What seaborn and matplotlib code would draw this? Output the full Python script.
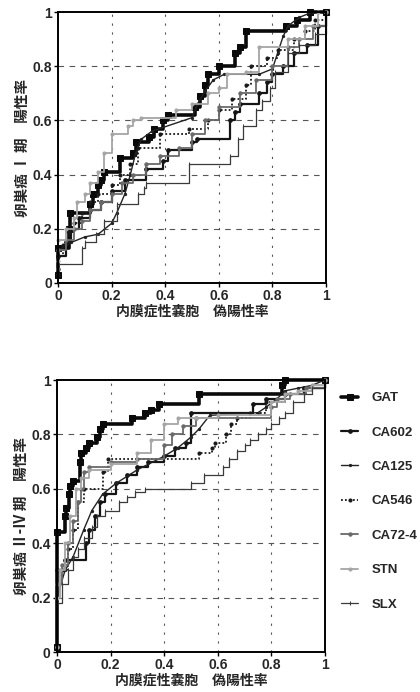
import matplotlib
matplotlib.use("Agg")
import matplotlib.pyplot as plt
import seaborn as sns
import pandas as pd

# ---------------- data ----------------
series_names = ["GAT", "CA602", "CA125", "CA546", "CA72-4", "STN", "SLX"]
tick_vals = [0, 0.2, 0.4, 0.6, 0.8, 1]
tick_labels = ["0", "0.2", "0.4", "0.6", "0.8", "1"]

# Stage I panel
top_gat_x = [0, 0, 0.04, 0.045, 0.12, 0.13, 0.15, 0.16, 0.17, 0.23, 0.28, 0.29, 0.34, 0.36, 0.39, 0.41, 0.51, 0.53, 0.55, 0.56, 0.60, 0.66, 0.68, 0.70, 0.85, 0.89, 0.94, 1.0]
top_gat_y = [0.03, 0.13, 0.20, 0.26, 0.29, 0.33, 0.36, 0.38, 0.41, 0.46, 0.48, 0.52, 0.54, 0.57, 0.60, 0.62, 0.65, 0.69, 0.73, 0.77, 0.80, 0.85, 0.87, 0.93, 0.95, 0.97, 1.0, 1.0]
top_ca602_x = [0, 0, 0.03, 0.05, 0.08, 0.12, 0.16, 0.20, 0.25, 0.33, 0.39, 0.41, 0.50, 0.52, 0.64, 0.66, 0.68, 0.75, 0.78, 0.80, 0.84, 0.88, 0.93, 0.97, 1.0]
top_ca602_y = [0.03, 0.10, 0.15, 0.20, 0.24, 0.27, 0.30, 0.34, 0.38, 0.42, 0.45, 0.49, 0.52, 0.53, 0.60, 0.63, 0.66, 0.70, 0.74, 0.77, 0.80, 0.85, 0.88, 0.95, 1.0]
top_ca125_x = [0, 0, 0.05, 0.10, 0.15, 0.20, 0.22, 0.25, 0.27, 0.29, 0.31, 0.35, 0.50, 0.52, 0.55, 0.58, 0.62, 0.75, 0.80, 0.82, 0.84, 0.86, 0.90, 0.95, 1.0]
top_ca125_y = [0.05, 0.12, 0.15, 0.17, 0.18, 0.22, 0.26, 0.33, 0.40, 0.48, 0.53, 0.56, 0.61, 0.66, 0.71, 0.75, 0.77, 0.77, 0.79, 0.85, 0.91, 0.95, 0.98, 1.0, 1.0]
top_ca546_x = [0, 0, 0.02, 0.04, 0.06, 0.09, 0.12, 0.15, 0.20, 0.23, 0.27, 0.30, 0.38, 0.49, 0.56, 0.60, 0.65, 0.70, 0.72, 0.78, 0.82, 0.88, 0.92, 0.96, 1.0]
top_ca546_y = [0.05, 0.10, 0.14, 0.19, 0.22, 0.26, 0.30, 0.33, 0.36, 0.40, 0.44, 0.50, 0.55, 0.57, 0.60, 0.64, 0.68, 0.73, 0.80, 0.83, 0.86, 0.90, 0.93, 0.97, 1.0]
top_ca724_x = [0, 0, 0.03, 0.06, 0.09, 0.12, 0.16, 0.20, 0.24, 0.28, 0.33, 0.38, 0.45, 0.50, 0.55, 0.60, 0.68, 0.74, 0.80, 0.86, 0.90, 0.95, 1.0]
top_ca724_y = [0.05, 0.12, 0.16, 0.20, 0.23, 0.27, 0.30, 0.33, 0.37, 0.40, 0.44, 0.47, 0.50, 0.55, 0.60, 0.65, 0.70, 0.75, 0.80, 0.87, 0.90, 0.95, 1.0]
top_stn_x = [0, 0, 0.03, 0.06, 0.07, 0.10, 0.12, 0.15, 0.17, 0.20, 0.26, 0.28, 0.31, 0.44, 0.50, 0.56, 0.60, 0.63, 0.70, 0.75, 0.86, 0.92, 0.97, 1.0]
top_stn_y = [0.08, 0.16, 0.20, 0.24, 0.30, 0.33, 0.37, 0.41, 0.48, 0.55, 0.58, 0.60, 0.61, 0.64, 0.66, 0.70, 0.72, 0.77, 0.78, 0.87, 0.90, 0.95, 1.0, 1.0]
top_slx_x = [0, 0, 0.09, 0.10, 0.14, 0.17, 0.22, 0.30, 0.32, 0.33, 0.49, 0.64, 0.67, 0.69, 0.74, 0.76, 0.79, 0.81, 0.86, 0.90, 0.96, 1.0]
top_slx_y = [0.03, 0.07, 0.13, 0.15, 0.18, 0.23, 0.29, 0.33, 0.35, 0.37, 0.44, 0.47, 0.53, 0.58, 0.64, 0.67, 0.72, 0.78, 0.85, 0.88, 0.92, 1.0]

# Stage II-IV panel
bot_gat_x = [0, 0, 0.03, 0.035, 0.045, 0.05, 0.06, 0.085, 0.09, 0.11, 0.12, 0.15, 0.16, 0.17, 0.28, 0.33, 0.35, 0.38, 0.53, 0.84, 0.85, 1.0]
bot_gat_y = [0.02, 0.44, 0.50, 0.53, 0.58, 0.61, 0.63, 0.70, 0.73, 0.75, 0.77, 0.79, 0.82, 0.84, 0.86, 0.88, 0.89, 0.91, 0.95, 0.98, 1.0, 1.0]
bot_ca602_x = [0, 0, 0.03, 0.11, 0.12, 0.14, 0.16, 0.18, 0.22, 0.26, 0.30, 0.34, 0.40, 0.44, 0.48, 0.50, 0.73, 0.78, 0.85, 0.92, 1.0]
bot_ca602_y = [0.02, 0.30, 0.34, 0.40, 0.45, 0.50, 0.55, 0.58, 0.62, 0.65, 0.68, 0.70, 0.72, 0.75, 0.77, 0.88, 0.91, 0.93, 0.95, 0.97, 1.0]
bot_ca125_x = [0, 0, 0.03, 0.06, 0.10, 0.13, 0.17, 0.22, 0.30, 0.40, 0.45, 0.50, 0.53, 0.57, 0.75, 0.78, 0.82, 0.85, 0.90, 0.95, 1.0]
bot_ca125_y = [0.02, 0.20, 0.30, 0.35, 0.45, 0.52, 0.58, 0.62, 0.67, 0.72, 0.75, 0.79, 0.82, 0.87, 0.88, 0.90, 0.93, 0.96, 0.97, 0.98, 1.0]
bot_ca546_x = [0, 0, 0.02, 0.04, 0.06, 0.08, 0.10, 0.17, 0.19, 0.53, 0.58, 0.59, 0.63, 0.65, 0.67, 0.72, 0.78, 0.85, 0.92, 1.0]
bot_ca546_y = [0.02, 0.25, 0.30, 0.38, 0.45, 0.55, 0.60, 0.66, 0.71, 0.73, 0.75, 0.77, 0.80, 0.84, 0.86, 0.88, 0.92, 0.95, 0.97, 1.0]
bot_ca724_x = [0, 0, 0.02, 0.04, 0.06, 0.08, 0.09, 0.10, 0.12, 0.20, 0.30, 0.40, 0.43, 0.47, 0.52, 0.80, 0.82, 0.87, 0.93, 1.0]
bot_ca724_y = [0.02, 0.25, 0.32, 0.40, 0.48, 0.55, 0.60, 0.66, 0.68, 0.70, 0.71, 0.76, 0.80, 0.83, 0.86, 0.90, 0.93, 0.95, 0.97, 1.0]
bot_stn_x = [0, 0, 0.01, 0.03, 0.05, 0.07, 0.09, 0.12, 0.20, 0.30, 0.35, 0.40, 0.45, 0.52, 0.60, 0.80, 0.85, 0.90, 0.95, 1.0]
bot_stn_y = [0.02, 0.20, 0.30, 0.40, 0.50, 0.60, 0.64, 0.67, 0.69, 0.73, 0.78, 0.84, 0.86, 0.86, 0.87, 0.92, 0.95, 0.96, 0.98, 1.0]
bot_slx_x = [0, 0, 0.02, 0.04, 0.06, 0.08, 0.10, 0.13, 0.15, 0.18, 0.23, 0.26, 0.29, 0.33, 0.50, 0.55, 0.62, 0.64, 0.67, 0.70, 0.72, 0.75, 0.78, 0.80, 0.83, 0.85, 0.88, 0.92, 0.95, 1.0]
bot_slx_y = [0.02, 0.18, 0.25, 0.30, 0.35, 0.38, 0.42, 0.46, 0.50, 0.52, 0.55, 0.57, 0.59, 0.60, 0.62, 0.65, 0.68, 0.71, 0.74, 0.76, 0.78, 0.80, 0.82, 0.84, 0.86, 0.88, 0.92, 0.95, 0.97, 1.0]

top_series = [(top_gat_x, top_gat_y), (top_ca602_x, top_ca602_y), (top_ca125_x, top_ca125_y),
              (top_ca546_x, top_ca546_y), (top_ca724_x, top_ca724_y), (top_stn_x, top_stn_y),
              (top_slx_x, top_slx_y)]
bot_series = [(bot_gat_x, bot_gat_y), (bot_ca602_x, bot_ca602_y), (bot_ca125_x, bot_ca125_y),
              (bot_ca546_x, bot_ca546_y), (bot_ca724_x, bot_ca724_y), (bot_stn_x, bot_stn_y),
              (bot_slx_x, bot_slx_y)]

top_ylabel = "卵巣癌 Ⅰ 期　陽性率"
bot_ylabel = "卵巣癌 Ⅱ-Ⅳ 期　陽性率"
xlabel = "内膜症性嚢胞　偽陽性率"

# ---------------- styles ----------------
styles = {
    "GAT":    dict(color="#0a0a0a", lw=2.6, ls="-", marker="s", ms=4.0, ds="steps-post"),
    "CA602":  dict(color="#151515", lw=1.6, ls="-", marker="o", ms=2.6, ds="steps-post"),
    "CA125":  dict(color="#222222", lw=1.0, ls="-", marker="o", ms=1.6, ds="default"),
    "CA546":  dict(color="#1a1a1a", lw=1.3, ls=(0, (1, 1.2)), marker="o", ms=2.2, ds="steps-post"),
    "CA72-4": dict(color="#6a6a6a", lw=1.3, ls="-", marker="o", ms=2.4, ds="steps-post"),
    "STN":    dict(color="#a5a5a5", lw=1.3, ls="-", marker="o", ms=2.2, ds="steps-post"),
    "SLX":    dict(color="#3a3a3a", lw=0.9, ls="-", marker="|", ms=2.5, ds="steps-post"),
}

sns.set_theme(style="white")
plt.rcParams["font.family"] = ["Liberation Sans", "Noto Sans CJK JP", "DejaVu Sans"]

fig = plt.figure(figsize=(4.2, 6.92), dpi=100)
ax_top = fig.add_axes([58 / 420, 1 - 283 / 692, 268 / 420, 271 / 692])
ax_bot = fig.add_axes([57 / 420, 1 - 652 / 692, 268 / 420, 272 / 692])


def draw_panel(ax, series, ylabel, with_legend):
    for name, (xs, ys) in zip(series_names, series):
        st = styles[name]
        df = pd.DataFrame({"x": xs, "y": ys})
        sns.lineplot(data=df, x="x", y="y", ax=ax, estimator=None, sort=False,
                     color=st["color"], lw=st["lw"], ls=st["ls"], marker=st["marker"],
                     ms=st["ms"], mec=st["color"], mfc=st["color"], drawstyle=st["ds"],
                     label=name if with_legend else None, legend=False, clip_on=False)
    ax.set_xlim(0, 1)
    ax.set_ylim(0, 1)
    ax.set_xticks(tick_vals)
    ax.set_yticks(tick_vals)
    ax.set_xticklabels(tick_labels, fontsize=10, fontweight="bold")
    ax.set_yticklabels(tick_labels, fontsize=10, fontweight="bold")
    ax.tick_params(direction="out", length=3, width=1, pad=1.5, color="black",
                   bottom=True, left=True)
    for sp in ax.spines.values():
        sp.set_color("black")
        sp.set_linewidth(1.4)
    for v in tick_vals[1:-1]:
        ax.axhline(v, color="#555555", lw=0.8, ls=(0, (5, 5)), zorder=0)
        ax.axvline(v, color="#555555", lw=0.8, ls=(0, (2, 6)), zorder=0)
    ax.set_xlabel(xlabel, fontsize=10, fontweight="bold", labelpad=1,
                  family=["Noto Sans CJK JP", "DejaVu Sans"])
    ax.set_ylabel(ylabel, fontsize=10.5, fontweight="bold", labelpad=2,
                  family=["Noto Sans CJK JP", "DejaVu Sans"])


draw_panel(ax_top, top_series, top_ylabel, False)
draw_panel(ax_bot, bot_series, bot_ylabel, True)

handles, labels = ax_bot.get_legend_handles_labels()
fig.legend(handles, labels, loc="upper left", bbox_to_anchor=(341 / 420, 1 - 392 / 692),
           frameon=False, handlelength=1.3, handletextpad=1.0,
           labelspacing=1.68, borderpad=0, borderaxespad=0,
           prop=dict(family="Liberation Sans", weight="bold", size=9.5))

fig.savefig("out.png", dpi=100)
